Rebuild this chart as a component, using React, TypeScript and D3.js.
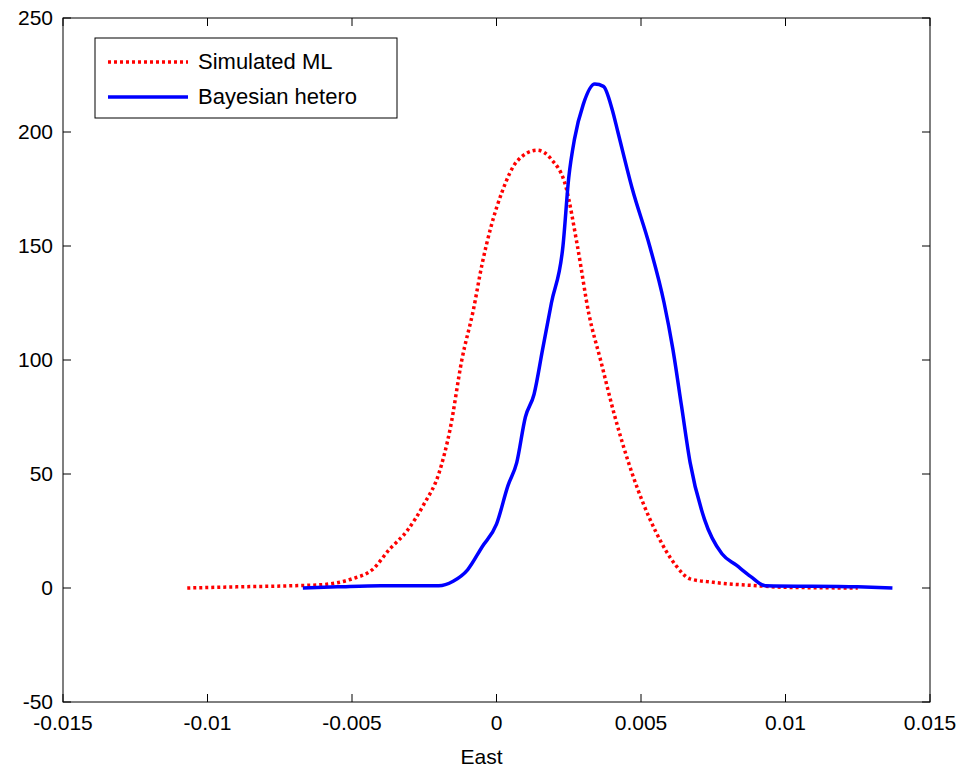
import * as d3 from "d3";

const xTicks = [-0.015, -0.01, -0.005, 0, 0.005, 0.01, 0.015];
const yTicks = [-50, 0, 50, 100, 150, 200, 250];

const simX = [-0.0107,-0.009,-0.007,-0.006,-0.005,-0.0043,-0.0037,-0.0031,-0.0025,-0.002,-0.0016,-0.0012,-0.0008,-0.0005,-0.0002,0.0002,0.0007,0.0014,0.0019,0.0024,0.0028,0.0032,0.0036,0.0041,0.0047,0.0055,0.0062,0.0067,0.0075,0.009,0.01,0.0125];
const simY = [0,0.5,1,1.5,4,8,17,25,37,50,70,100,122,142,158,174,187,192,188,176,150,120,100,75,50,25,10,4,2.5,1,0.3,0];

const bayX = [-0.0067,-0.0055,-0.004,-0.002,-0.0015,-0.001,-0.0005,0,0.0004,0.0007,0.001,0.0013,0.0016,0.0019,0.0023,0.0025,0.0027,0.003,0.0034,0.0037,0.004,0.0042,0.0047,0.0053,0.0058,0.0061,0.0064,0.0067,0.0072,0.0078,0.0083,0.0088,0.0093,0.0125,0.0137];
const bayY = [0,0.5,1,1,3,8,18,28,45,55,75,85,105,125,150,180,197,212,221,220,210,200,175,150,125,105,80,55,30,15,10,5,1,0.5,0];

const W = 963, H = 771;
const L = 63, R = 930, T = 18, B = 702;

export default function App() {
  const x = d3.scaleLinear().domain([-0.015, 0.015]).range([L, R]);
  const y = d3.scaleLinear().domain([-50, 250]).range([B, T]);
  const ln = d3.line<[number, number]>().x((d) => x(d[0])).y((d) => y(d[1])).curve(d3.curveMonotoneX);
  const sim = simX.map((v, i) => [v, simY[i]] as [number, number]);
  const bay = bayX.map((v, i) => [v, bayY[i]] as [number, number]);
  const font = "Liberation Sans, Arial, sans-serif";
  return (
    <svg width={W} height={H} style={{ position: "absolute", left: 0, top: 0, background: "#fff" }}>
      <rect x={L} y={T} width={R - L} height={B - T} fill="none" stroke="#000" strokeWidth={1} />
      {xTicks.map((t) => (
        <g key={t}>
          <line x1={x(t)} x2={x(t)} y1={B} y2={B - 8} stroke="#000" />
          <line x1={x(t)} x2={x(t)} y1={T} y2={T + 8} stroke="#000" />
          <text x={x(t)} y={B + 28} textAnchor="middle" fontFamily={font} fontSize={21}>{t}</text>
        </g>
      ))}
      {yTicks.map((t) => (
        <g key={t}>
          <line x1={L} x2={L + 8} y1={y(t)} y2={y(t)} stroke="#000" />
          <line x1={R} x2={R - 8} y1={y(t)} y2={y(t)} stroke="#000" />
          <text x={L - 10} y={y(t) + 7} textAnchor="end" fontFamily={font} fontSize={21}>{t}</text>
        </g>
      ))}
      <text x={(L + R) / 2 - 15} y={B + 62} textAnchor="middle" fontFamily={font} fontSize={21}>East</text>
      <path d={ln(sim) || ""} fill="none" stroke="#ff0000" strokeWidth={3.5} strokeDasharray="3,3" />
      <path d={ln(bay) || ""} fill="none" stroke="#0000ff" strokeWidth={3.5} />
      <rect x={95} y={38} width={302} height={80} fill="#fff" stroke="#000" />
      <line x1={108} x2={188} y1={62} y2={62} stroke="#ff0000" strokeWidth={3.5} strokeDasharray="3,3" />
      <line x1={108} x2={188} y1={97} y2={97} stroke="#0000ff" strokeWidth={3.5} />
      <text x={198} y={69} fontFamily={font} fontSize={22}>Simulated ML</text>
      <text x={198} y={104} fontFamily={font} fontSize={22}>Bayesian hetero</text>
    </svg>
  );
}
